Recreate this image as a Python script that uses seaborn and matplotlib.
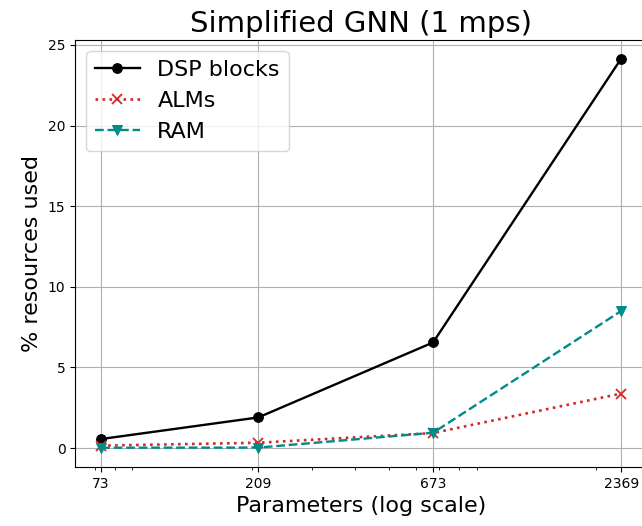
import matplotlib
matplotlib.use("Agg")
import matplotlib.pyplot as plt
import seaborn as sns
import pandas as pd
from matplotlib.ticker import NullFormatter, FixedLocator, FixedFormatter

params = [73, 209, 673, 2369]
dsp = [0.56, 1.9, 6.55, 24.15]
alms = [0.15, 0.33, 0.93, 3.38]
ram = [0.02, 0.03, 0.95, 8.5]

fig, ax = plt.subplots(figsize=(6.42, 5.26), dpi=100)

sns.lineplot(x=params, y=dsp, ax=ax, color="black", marker="o", markersize=7,
             markeredgecolor="black", linestyle="-", linewidth=1.7, label="DSP blocks")
sns.lineplot(x=params, y=alms, ax=ax, color="tab:red", marker="x", markersize=6.5,
             markeredgecolor="tab:red", markeredgewidth=1.3, linestyle=":",
             linewidth=1.9, label="ALMs")
sns.lineplot(x=params, y=ram, ax=ax, color="darkcyan", marker="v", markersize=7,
             markeredgecolor="darkcyan", linestyle="--", linewidth=1.7, label="RAM")

ax.set_xscale("log")
ax.xaxis.set_major_locator(FixedLocator(params))
ax.xaxis.set_major_formatter(FixedFormatter([str(p) for p in params]))
ax.xaxis.set_minor_formatter(NullFormatter())
ax.set_yticks([0, 5, 10, 15, 20, 25])
ax.set_ylim(-1.18, 25.31)
ax.grid(True, which="major", color="#b0b0b0", linewidth=0.8)
ax.set_axisbelow(True)

ax.set_title("Simplified GNN (1 mps)", fontsize=21)
ax.set_xlabel("Parameters (log scale)", fontsize=16)
ax.set_ylabel("% resources used", fontsize=16)
ax.legend(loc="upper left", fontsize=16)

fig.subplots_adjust(left=0.117, right=1.008, top=0.924, bottom=0.112)
fig.savefig("out.png", dpi=100)
